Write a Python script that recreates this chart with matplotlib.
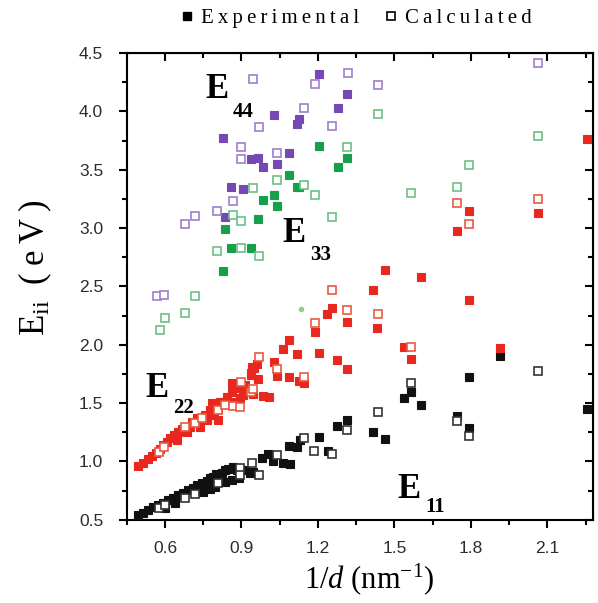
import numpy as np
import matplotlib.pyplot as plt
from matplotlib.lines import Line2D

plt.rcParams['mathtext.fontset'] = 'custom'
plt.rcParams['mathtext.rm'] = 'Liberation Serif'
plt.rcParams['mathtext.it'] = 'Liberation Serif:italic'
plt.rcParams['mathtext.bf'] = 'Liberation Serif:bold'

# E11 (black)
e11_exp_x = [0.495, 0.515, 0.535, 0.554, 0.574, 0.593, 0.613, 0.633, 0.652, 0.672, 0.691, 0.711,
             0.724, 0.744, 0.763, 0.776, 0.789, 0.802, 0.822, 0.835, 0.848, 0.862, 0.835, 0.796,
             0.776, 0.750, 0.868, 0.881, 0.914, 0.933, 0.639, 0.600, 0.890, 0.947, 0.982, 1.005,
             1.025, 1.064, 1.090, 1.086, 1.116, 1.130, 1.204, 1.238, 1.276, 1.314, 1.417, 1.465,
             1.537, 1.565, 1.605, 1.745, 1.793, 1.793, 1.916, 2.254]
e11_exp_y = [0.542, 0.562, 0.585, 0.608, 0.628, 0.647, 0.670, 0.690, 0.713, 0.733, 0.756, 0.770,
             0.799, 0.813, 0.836, 0.856, 0.870, 0.893, 0.904, 0.927, 0.933, 0.842, 0.827, 0.784,
             0.762, 0.742, 0.956, 0.927, 0.927, 0.899, 0.642, 0.600, 0.856, 0.907, 1.033, 1.062,
             1.007, 0.985, 0.979, 1.130, 1.125, 1.180, 1.210, 1.090, 1.304, 1.355, 1.250, 1.190,
             1.546, 1.595, 1.484, 1.389, 1.287, 1.720, 1.903, 1.449]
e11_calc_x = [0.578, 0.600, 0.678, 0.718, 0.809, 0.894, 0.894, 0.940, 0.967, 1.038, 1.145, 1.186,
              1.256, 1.314, 1.437, 1.565, 1.745, 1.793, 2.065]
e11_calc_y = [0.600, 0.628, 0.685, 0.722, 0.813, 0.942, 0.884, 0.985, 0.884, 1.053, 1.200, 1.087,
              1.064, 1.270, 1.427, 1.675, 1.347, 1.216, 1.777]

# E22 (red)
e22_exp_x = [0.495, 0.515, 0.532, 0.548, 0.565, 0.580, 0.593, 0.607, 0.620, 0.636, 0.646, 0.652,
             0.665, 0.685, 0.698, 0.705, 0.724, 0.737, 0.757, 0.763, 0.776, 0.786, 0.793, 0.807,
             0.809, 0.816, 0.842, 0.862, 0.875, 0.894, 0.862, 0.881, 0.914, 0.937, 0.943, 0.901,
             0.907, 0.936, 0.966, 0.960, 0.950, 0.947, 0.986, 1.009, 1.026, 1.038, 1.086, 1.124,
             1.145, 1.064, 1.086, 1.116, 1.205, 1.276, 1.315, 1.188, 1.237, 1.256, 1.315, 1.417,
             1.433, 1.465, 1.605, 1.537, 1.565, 1.793, 1.916, 1.745, 1.793, 2.065, 2.254]
e22_exp_y = [0.964, 0.990, 1.019, 1.047, 1.075, 1.110, 1.141, 1.170, 1.199, 1.227, 1.184, 1.255,
             1.276, 1.255, 1.298, 1.341, 1.370, 1.298, 1.398, 1.356, 1.441, 1.498, 1.398, 1.356,
             1.447, 1.512, 1.555, 1.598, 1.512, 1.543, 1.669, 1.627, 1.655, 1.755, 1.812, 1.641,
             1.569, 1.745, 1.704, 1.835, 1.800, 1.575, 1.564, 1.555, 1.852, 1.735, 1.721, 1.689,
             1.669, 1.966, 2.038, 1.918, 1.926, 1.866, 1.795, 2.106, 2.260, 2.317, 2.192, 2.466,
             2.146, 2.642, 2.580, 1.983, 1.878, 2.383, 1.969, 2.973, 3.150, 3.127, 3.767]
e22_calc_x = [0.575, 0.597, 0.678, 0.718, 0.744, 0.809, 0.835, 0.865, 0.894, 0.898, 0.937, 0.947,
              0.969, 1.038, 1.146, 1.188, 1.256, 1.315, 1.434, 1.565, 1.745, 1.793, 2.065]
e22_calc_y = [1.080, 1.127, 1.298, 1.327, 1.370, 1.441, 1.484, 1.475, 1.469, 1.683, 1.598, 1.618,
              1.892, 1.792, 1.727, 2.188, 2.466, 2.297, 2.260, 1.983, 3.211, 3.036, 3.247]

# E33 (green)
e33_exp_x = [1.205, 1.314, 1.277, 1.085, 1.116, 1.127, 1.026, 0.986, 1.038, 0.965, 0.836, 0.858,
             0.936, 0.827]
e33_exp_y = [3.701, 3.604, 3.524, 3.459, 3.353, 3.348, 3.284, 3.239, 3.190, 3.079, 2.991, 2.828,
             2.828, 2.628]
e33_calc_x = [1.437, 1.314, 1.038, 0.946, 1.146, 1.188, 1.256, 0.867, 0.899, 0.805, 0.897, 0.967,
              0.678, 0.600, 0.580, 0.719, 2.065, 1.793, 1.745, 1.565]
e33_calc_y = [3.978, 3.693, 3.413, 3.344, 3.370, 3.282, 3.093, 3.108, 3.065, 2.802, 2.828, 2.762,
              2.269, 2.231, 2.123, 2.417, 3.787, 3.541, 3.348, 3.299]
e33_dot_x = [1.133]
e33_dot_y = [2.308]

# E44 (purple)
e44_exp_x = [1.205, 1.314, 1.277, 1.026, 1.127, 1.116, 0.827, 0.936, 0.965, 1.085, 0.986, 1.038,
             0.858, 0.907, 0.836]
e44_exp_y = [4.318, 4.149, 4.027, 3.973, 3.938, 3.890, 3.772, 3.596, 3.604, 3.647, 3.524, 3.553,
             3.348, 3.336, 3.091]
e44_calc_x = [0.946, 1.188, 1.316, 1.437, 1.146, 0.967, 1.256, 0.898, 0.899, 1.038, 0.867, 0.805,
              0.718, 0.678, 2.065, 0.570, 0.597]
e44_calc_y = [4.278, 4.238, 4.332, 4.229, 4.029, 3.864, 3.878, 3.693, 3.590, 3.647, 3.230, 3.150,
              3.102, 3.039, 4.418, 2.417, 2.428]

fig = plt.figure(figsize=(5.98, 6.03), dpi=100)
ax = fig.add_axes([0.212, 0.138, 0.780, 0.774])

ms = 6.3
series = [
    (e11_exp_x, e11_exp_y, e11_calc_x, e11_calc_y, '#111111', '#333333'),
    (e22_exp_x, e22_exp_y, e22_calc_x, e22_calc_y, '#e8281e', '#ea5a40'),
    (e33_exp_x, e33_exp_y, e33_calc_x, e33_calc_y, '#16a04c', '#6cbf84'),
    (e44_exp_x, e44_exp_y, e44_calc_x, e44_calc_y, '#7548b4', '#9d7fd0'),
]
for ex, ey, cx, cy, col, ocol in series:
    ax.plot(ex, ey, 's', color=col, ms=ms, mec=col, mew=0.8, zorder=3)
for ex, ey, cx, cy, col, ocol in series:
    ax.plot(cx, cy, 's', mfc='white', mec=ocol, ms=ms, mew=1.2, zorder=4)
ax.plot(e33_dot_x, e33_dot_y, 'o', color='#8fd07a', ms=4, mec='none', zorder=4)

xmaj = [0.6, 0.9, 1.2, 1.5, 1.8, 2.1]
xmin = np.arange(0.45, 2.28, 0.15)
ymaj = np.arange(0.5, 4.51, 0.5)
ymin = np.arange(0.75, 4.5, 0.5)

ax.set_xlim(0.45, 2.28)
ax.set_ylim(0.5, 4.5)
ax.set_xticks(xmaj)
ax.set_xticks(xmin, minor=True)
ax.set_yticks(ymaj)
ax.set_yticks(ymin, minor=True)
ax.set_yticklabels(['%.1f' % v for v in ymaj])
ax.tick_params(which='both', direction='out', width=1.5, colors='black',
               labelcolor='#2b2b2b', labelsize=12.5)
ax.tick_params(axis='x', pad=9)
ax.tick_params(axis='y', pad=11)
ax.tick_params(which='major', length=6)
ax.tick_params(which='minor', length=3.5)
for lab in ax.get_xticklabels() + ax.get_yticklabels():
    lab.set_family('Liberation Sans')
for s in ax.spines.values():
    s.set_linewidth(1.5)

top = ax.secondary_xaxis('top')
top.set_xticks(xmaj)
top.set_xticks(xmin, minor=True)
top.tick_params(which='both', direction='in', width=1.5, labeltop=False)
top.tick_params(which='major', length=6)
top.tick_params(which='minor', length=3.5)
right = ax.secondary_yaxis('right')
right.set_yticks(ymaj)
right.set_yticks(ymin, minor=True)
right.tick_params(which='both', direction='in', width=1.5, labelright=False)
right.tick_params(which='major', length=6)
right.tick_params(which='minor', length=3.5)

ts = '\u2009'
ax.set_xlabel('1/$d$ (nm$^{\\mathrm{-1}}$)', family='Liberation Serif', fontsize=22)
ax.xaxis.set_label_coords(0.52, -0.088)
ax.set_ylabel('E$_{\\mathrm{ii}}$ ' + ts + '(' + ts + 'e' + ts + 'V' + ts + ')',
              family='Liberation Serif', fontsize=25)
ax.yaxis.set_label_coords(-0.155, 0.54)

# band labels
bands = [('44', 0.757, 4.112, 0.867, 3.950),
         ('33', 1.059, 2.879, 1.169, 2.725),
         ('22', 0.522, 1.553, 0.631, 1.416),
         ('11', 1.510, 0.688, 1.620, 0.568)]
for sub, x1, y1, x2, y2 in bands:
    ax.text(x1, y1, 'E', family='Liberation Serif', weight='bold', fontsize=25,
            ha='left', va='baseline')
    ax.text(x2, y2, sub, family='Liberation Serif', weight='bold', fontsize=15,
            ha='left', va='baseline')

handles = [Line2D([], [], ls='none', marker='s', color='black', ms=6),
           Line2D([], [], ls='none', marker='s', mfc='white', mec='black', ms=6, mew=1.2)]
fig.legend(handles, [ts.join('Experimental'), ts.join('Calculated')], loc='center',
           bbox_to_anchor=(0.596, 0.970), ncol=2, frameon=False, handlelength=0.6,
           handletextpad=0.4, columnspacing=1.2,
           prop={'family': 'Liberation Serif', 'size': 15})

plt.savefig('out.png', dpi=100)
